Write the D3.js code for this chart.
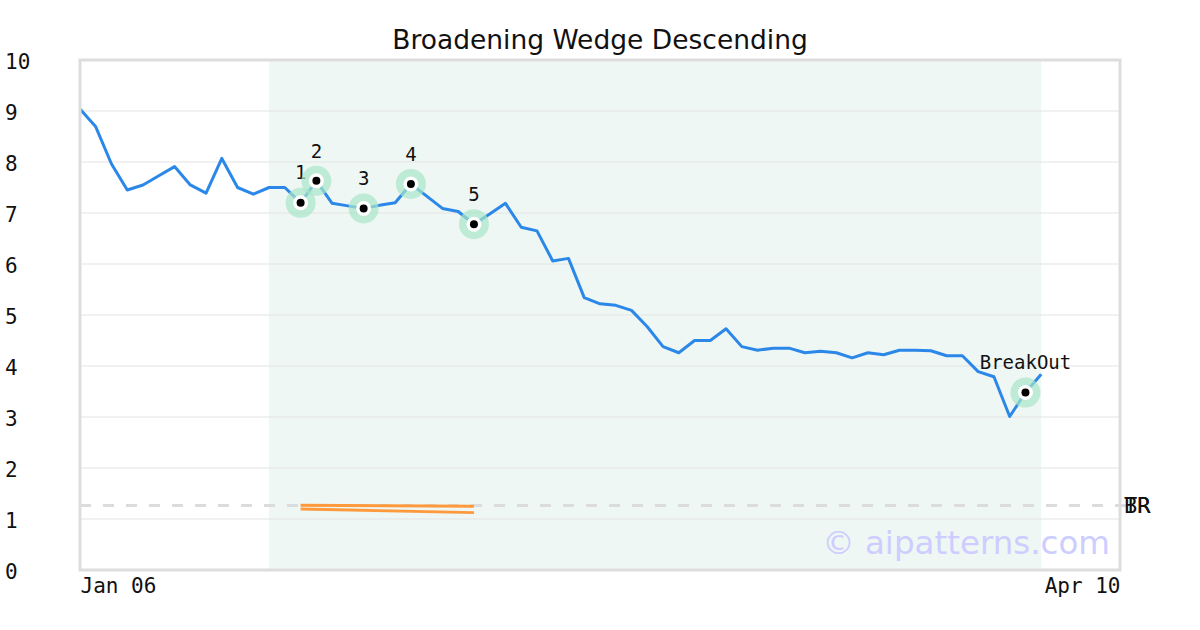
<!DOCTYPE html>
<html>
<head>
<meta charset="utf-8">
<script src="https://cdn.jsdelivr.net/npm/d3@7"></script>
<style>
  html, body { margin: 0; padding: 0; background: #fff; }
  svg { display: block; }
</style>
</head>
<body>
<svg id="chart" width="1200" height="630"></svg>
<script>
// ---- data ----
const prices = [9.04, 8.69, 7.96, 7.45, 7.55, 7.73, 7.91, 7.55, 7.39, 8.07,
  7.50, 7.37, 7.50, 7.50, 7.20, 7.63, 7.19, 7.14, 7.09, 7.15,
  7.20, 7.57, 7.33, 7.09, 7.03, 6.78, 6.98, 7.19, 6.72, 6.65,
  6.06, 6.11, 5.34, 5.22, 5.19, 5.09, 4.77, 4.38, 4.26, 4.50,
  4.50, 4.73, 4.38, 4.31, 4.35, 4.35, 4.26, 4.29, 4.26, 4.16,
  4.26, 4.22, 4.31, 4.31, 4.30, 4.20, 4.20, 3.89, 3.79, 3.01,
  3.48, 3.84];
const xDomainEnd = 66;
const patternIdx = [14, 15, 18, 21, 25];
const patternLabels = ["1", "2", "3", "4", "5"];
const breakoutIdx = 60;
const breakoutLabel = "BreakOut";
const shadeRange = [12, 61];
const trendTop = [[14, 1.27], [25, 1.25]];
const trendBottom = [[14, 1.195], [25, 1.125]];
const dashedLevel = 1.265;
const trendLabels = ["TR", "BR"];
const yTicks = [0, 1, 2, 3, 4, 5, 6, 7, 8, 9, 10];
const xTickLabels = ["Jan 06", "Apr 10"];
const title = "Broadening Wedge Descending";
const watermark = "© aipatterns.com";

// ---- chart ----
(function () {
const svg = d3.select("#chart");
const mL = 80, mR = 1120, mT = 60, mB = 570;
const x = d3.scaleLinear().domain([0, xDomainEnd]).range([mL, mR]);
const y = d3.scaleLinear().domain([0, 10]).range([mB, mT]);
const mono = "'DejaVu Sans Mono', monospace";
const sans = "'DejaVu Sans', sans-serif";

// shaded pattern region
svg.append("rect")
  .attr("x", x(shadeRange[0])).attr("y", mT)
  .attr("width", x(shadeRange[1]) - x(shadeRange[0]))
  .attr("height", mB - mT)
  .attr("fill", "#eff7f4");

// gridlines
svg.append("g").selectAll("line").data(yTicks.slice(1, -1)).join("line")
  .attr("x1", mL).attr("x2", mR)
  .attr("y1", d => y(d)).attr("y2", d => y(d))
  .attr("stroke", "#e3e3e3").attr("stroke-width", 1);

// y axis labels via d3 axis
const yAxis = d3.axisLeft(y).tickValues(yTicks).tickSize(0).tickFormat(d3.format("d"));
const gy = svg.append("g").attr("transform", `translate(${mL},0)`).call(yAxis);
gy.select(".domain").remove();
gy.selectAll("text")
  .attr("x", 5 - mL).attr("dy", "0.42em").attr("text-anchor", "start")
  .attr("font-family", mono).attr("font-size", 21).attr("fill", "#111");

// x axis labels
const xAxis = d3.axisBottom(x).tickValues([0, xDomainEnd]).tickSize(0)
  .tickFormat((d, i) => xTickLabels[i]);
const gx = svg.append("g").attr("transform", `translate(0,${mB})`).call(xAxis);
gx.select(".domain").remove();
gx.selectAll("text")
  .attr("y", 8)
  .attr("text-anchor", (d, i) => i === 0 ? "start" : "end")
  .attr("font-family", mono).attr("font-size", 21).attr("fill", "#111");

// dashed level
svg.append("line")
  .attr("x1", mL).attr("x2", mR + 12)
  .attr("y1", y(dashedLevel)).attr("y2", y(dashedLevel))
  .attr("stroke", "#dcdcdc").attr("stroke-width", 3)
  .attr("stroke-dasharray", "11,12");

// trend labels
svg.append("g").selectAll("text").data(trendLabels).join("text")
  .attr("x", mR + 4).attr("y", y(dashedLevel))
  .attr("dy", "0.35em")
  .attr("font-family", mono).attr("font-size", 22).attr("fill", "#111")
  .text(d => d);

// trend lines
const tl = d3.line().x(d => x(d[0])).y(d => y(d[1]));
[trendTop, trendBottom].forEach(t => {
  svg.append("path").attr("d", tl(t))
    .attr("fill", "none").attr("stroke", "#ff9a3c").attr("stroke-width", 3);
});

// watermark
svg.append("text")
  .attr("x", mR - 10).attr("y", 554)
  .attr("text-anchor", "end")
  .attr("font-family", sans).attr("font-size", 32.5)
  .attr("fill", "#cdcdff")
  .text(watermark);

// price line
const line = d3.line().x((d, i) => x(i)).y(d => y(d));
svg.append("path").datum(prices).attr("d", line)
  .attr("fill", "none").attr("stroke", "#2b88e8").attr("stroke-width", 3)
  .attr("stroke-linejoin", "round");

// markers
const marks = patternIdx.map((idx, k) => ({ idx, label: patternLabels[k] }))
  .concat([{ idx: breakoutIdx, label: breakoutLabel }]);
const mg = svg.append("g").selectAll("g").data(marks).join("g")
  .attr("transform", d => `translate(${x(d.idx)},${y(prices[d.idx])})`);
mg.append("circle").attr("r", 15).attr("fill", "#a8e6c8").attr("fill-opacity", 0.7);
mg.append("circle").attr("r", 7.5).attr("fill", "#fff");
mg.append("circle").attr("r", 4).attr("fill", "#000");
mg.append("text")
  .attr("y", -30).attr("dy", "0.35em")
  .attr("text-anchor", "middle")
  .attr("font-family", mono).attr("font-size", 19).attr("fill", "#111")
  .text(d => d.label);

// frame
svg.append("rect")
  .attr("x", mL).attr("y", mT)
  .attr("width", mR - mL).attr("height", mB - mT)
  .attr("fill", "none").attr("stroke", "#dddddd").attr("stroke-width", 3);

// title
svg.append("text")
  .attr("x", 600).attr("y", 40).attr("dy", "0.35em")
  .attr("text-anchor", "middle")
  .attr("font-family", sans).attr("font-size", 26.5).attr("fill", "#111")
  .text(title);
})();
</script>
</body>
</html>
